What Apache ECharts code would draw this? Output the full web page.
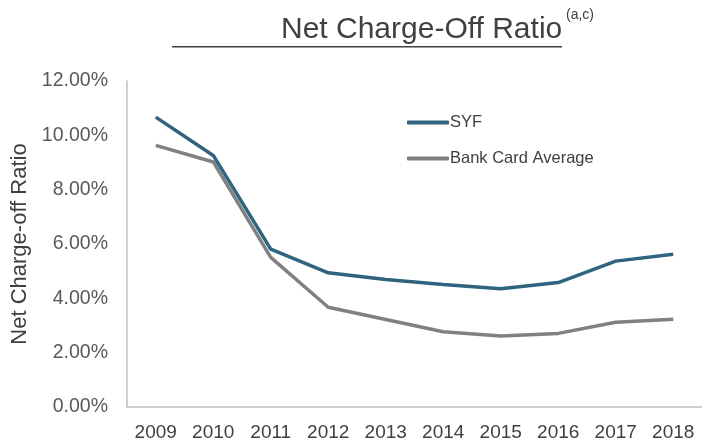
<!DOCTYPE html>
<html>
<head>
<meta charset="utf-8">
<script src="https://cdn.jsdelivr.net/npm/echarts@6/dist/echarts.min.js"></script>
<style>
html,body{margin:0;padding:0;background:#fff;}
#c{width:702px;height:444px;}
</style>
</head>
<body>
<div id="c"></div>
<script>
var categories = ['2009','2010','2011','2012','2013','2014','2015','2016','2017','2018'];
var syf = [10.67, 9.26, 5.81, 4.94, 4.69, 4.51, 4.35, 4.58, 5.37, 5.62];
var bankCard = [9.63, 9.02, 5.51, 3.67, 3.22, 2.77, 2.61, 2.71, 3.12, 3.23];
var yTicks = {min: 0, max: 12, interval: 2};

var chart = echarts.init(document.getElementById('c'));
var font = 'Liberation Sans, Arial, sans-serif';
chart.setOption({
  animation: false,
  textStyle: {fontFamily: font},
  title: {
    text: 'Net Charge-Off Ratio',
    left: 276, top: 10,
    textStyle: {fontSize: 30, fontWeight: 'normal', color: '#404040', fontFamily: font}
  },
  graphic: [
    {type: 'text', left: 566, top: 8, style: {text: '(a,c)', fontSize: 14, fill: '#404040', fontFamily: font}},
    {type: 'rect', left: 172, top: 46, shape: {width: 390, height: 1.6}, style: {fill: '#404040'}}
  ],
  legend: {
    orient: 'vertical',
    left: 402, top: 109,
    itemGap: 19,
    itemWidth: 42, itemHeight: 4,
    icon: 'roundRect',
    textStyle: {fontSize: 16.5, color: '#404040', padding: [0,0,0,-4]},
    data: ['SYF', 'Bank Card Average']
  },
  grid: {left: 127, right: -4, top: 81, bottom: 37},
  xAxis: {
    type: 'category',
    data: categories,
    boundaryGap: true,
    axisLine: {lineStyle: {color: '#bfbfbf', width: 1.5}},
    axisTick: {show: false},
    axisLabel: {fontSize: 19, color: '#404040', margin: 16}
  },
  yAxis: {
    type: 'value',
    min: yTicks.min, max: yTicks.max, interval: yTicks.interval,
    name: 'Net Charge-off Ratio',
    nameLocation: 'middle',
    nameGap: 93,
    nameTextStyle: {fontSize: 22, color: '#404040'},
    axisLine: {show: true, lineStyle: {color: '#bfbfbf', width: 1.5}},
    axisTick: {show: false},
    splitLine: {show: false},
    axisLabel: {fontSize: 19.5, color: '#595959', margin: 19,
      formatter: function(v){ return v.toFixed(2) + '%'; }}
  },
  series: [
    {name: 'SYF', type: 'line', data: syf, symbol: 'none',
      lineStyle: {color: '#2f637f', width: 3.5}, itemStyle: {color: '#2f637f'}},
    {name: 'Bank Card Average', type: 'line', data: bankCard, symbol: 'none',
      lineStyle: {color: '#808080', width: 3.5}, itemStyle: {color: '#808080'}}
  ]
});
</script>
</body>
</html>
